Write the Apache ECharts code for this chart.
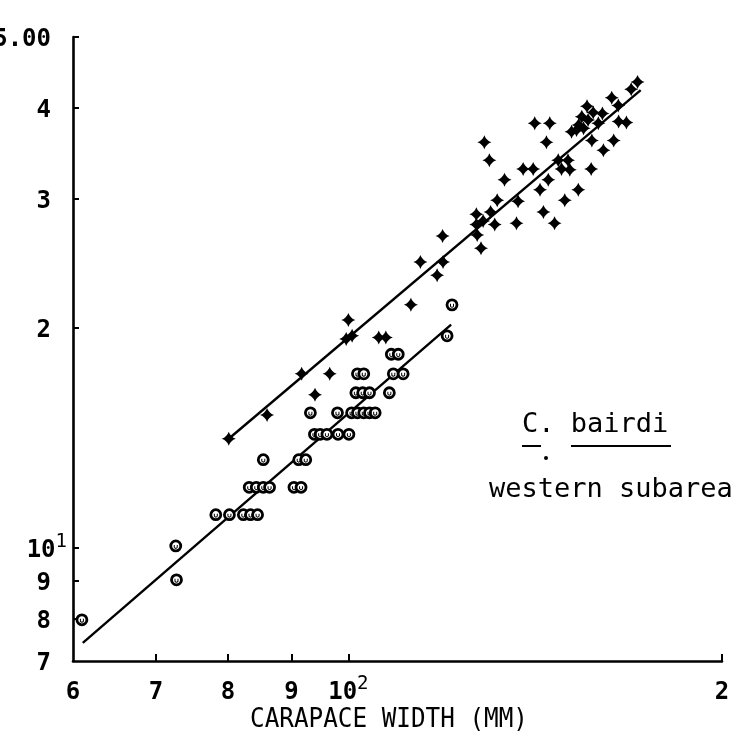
<!DOCTYPE html>
<html>
<head>
<meta charset="utf-8">
<script src="https://cdn.jsdelivr.net/npm/echarts@6/dist/echarts.min.js"></script>
<style>
  html, body { margin: 0; padding: 0; background: #fff; }
  #chart { width: 735px; height: 740px; }
</style>
</head>
<body>
<div id="chart"></div>
<script>
// crosses (upper group)
const crossWidth = [80.1, 86.0, 94.0, 91.7, 96.6, 99.6, 100.7, 105.8, 107.2, 100.0, 112.3, 117.9, 114.3, 119.2, 119.1, 127.0, 127.9,
  126.8, 130.2, 128.4, 131.2, 126.8, 131.8, 137.0, 136.6, 146.6, 143.6, 149.4, 153.2, 142.7, 144.9, 133.6, 138.3, 140.9, 129.9, 128.7,
  144.4, 141.3, 145.3, 147.6, 150.3, 148.5, 150.8, 156.9, 160.5, 163.6, 157.1,
  151.3, 152.7, 154.7, 153.3, 154.2, 156.0, 155.7, 157.5, 160.2, 159.0, 165.1, 167.5, 163.0, 165.0, 169.0, 171.0];
const crossHeight = [14.1, 15.2, 16.2, 17.3, 17.3, 19.3, 19.5, 19.4, 19.4, 20.5, 21.5, 23.6, 24.6, 24.6, 26.7, 26.8, 25.7,
  28.6, 28.8, 28.0, 27.7, 27.7, 29.9, 29.8, 27.8, 27.8, 28.8, 29.9, 30.9, 30.9, 31.9, 31.9, 33.0, 33.0, 33.9, 35.9,
  35.9, 38.1, 38.1, 33.9, 33.9, 33.0, 32.9, 33.0, 35.0, 36.1, 36.1,
  37.1, 37.3, 37.5, 37.9, 38.9, 38.5, 40.2, 39.4, 39.3, 38.1, 38.3, 38.2, 41.3, 40.3, 42.4, 43.4];

// circles (lower group)
const circleWidth = [61.0, 72.6, 72.7, 78.2, 80.2, 82.3, 83.4, 84.5, 83.2, 84.3, 85.4, 86.4, 90.4, 91.6, 85.4, 91.2, 92.4,
  93.9, 94.9, 96.1, 98.1, 100.1, 93.2, 98.0, 100.6, 101.7, 102.9, 104.0, 105.1, 101.4, 102.7, 104.0, 107.9,
  101.7, 102.9, 108.7, 110.7, 108.3, 109.7, 120.1, 121.2];
const circleHeight = [7.97, 10.06, 9.04, 11.1, 11.1, 11.1, 11.1, 11.1, 12.1, 12.1, 12.1, 12.1, 12.1, 12.1, 13.2, 13.2, 13.2,
  14.3, 14.3, 14.3, 14.3, 14.3, 15.3, 15.3, 15.3, 15.3, 15.3, 15.3, 15.3, 16.3, 16.3, 16.3, 16.3,
  17.3, 17.3, 17.3, 17.3, 18.4, 18.4, 19.5, 21.5];

// fitted lines (end points)
const crossFitWidth = [80.1, 172.0];
const crossFitHeight = [14.1, 42.3];
const circleFitWidth = [61.1, 121.0];
const circleFitHeight = [7.41, 20.2];

// axis ticks and labels
const xTicks = [60, 70, 80, 90, 100, 200];
const xTickLabels = ['6', '7', '8', '9', '10^2', '2'];
const yTicks = [7, 8, 9, 10, 20, 30, 40, 50];
const yTickLabels = ['7', '8', '9', '10^1', '2', '3', '4', '5.00'];

const zip = (a, b) => a.map((v, i) => [v, b[i]]);
const MONO = '"DejaVu Sans Mono", monospace';

function richLabel(txt, pad) {
  const parts = txt.split('^');
  if (parts.length > 1) return '{t|' + parts[0] + '}{s|' + parts[1] + '}';
  return pad ? '{p|' + txt + '}' : '{t|' + txt + '}';
}

const labelRich = {
  t: { fontFamily: MONO, fontSize: 24, fontWeight: 'bold', color: '#000', lineHeight: 30, verticalAlign: 'bottom' },
  p: { fontFamily: MONO, fontSize: 24, fontWeight: 'bold', color: '#000', lineHeight: 30, verticalAlign: 'bottom', padding: [0, 16, 0, 0] },
  s: { fontFamily: MONO, fontSize: 19, color: '#000', lineHeight: 30, verticalAlign: 'top' }
};

const chart = echarts.init(document.getElementById('chart'), null, { renderer: 'canvas' });

// fat four-pointed plus, like the plotter marks
const crossSymbol = 'path://M0,-10 Q2.6,-2.6 10,0 Q2.6,2.6 0,10 Q-2.6,2.6 -10,0 Q-2.6,-2.6 0,-10 Z';
// small "u" stroke drawn inside each circle
const innerSymbol = 'path://M0,0 L2,0 L2,4 Q4,6 6,4 L6,0 L8,0 L8,4.5 Q4,9.5 0,4.5 Z';

const option = {
  backgroundColor: '#fff',
  animation: false,
  grid: { left: 73, right: 13, top: 37, bottom: 79, containLabel: false, outerBoundsMode: 'none' },
  xAxis: {
    type: 'log',
    logBase: 10,
    min: 60,
    max: 200,
    axisLine: { show: true, lineStyle: { color: '#000', width: 2.6 } },
    axisTick: { show: true, inside: true, length: 7, lineStyle: { color: '#000', width: 2 },
      customValues: [70, 80, 90, 100, 200] },
    axisLabel: {
      show: true, margin: 14, customValues: xTicks,
      formatter: v => richLabel(xTickLabels[xTicks.indexOf(Math.round(v))] || '', false),
      rich: labelRich
    },
    splitLine: { show: false },
    minorTick: { show: false }
  },
  yAxis: {
    type: 'log',
    logBase: 10,
    min: 7,
    max: 50,
    axisLine: { show: true, lineStyle: { color: '#000', width: 2.6 } },
    axisTick: { show: true, inside: true, length: 6, lineStyle: { color: '#000', width: 2 },
      customValues: [8, 9, 10, 20, 30, 40, 50] },
    axisLabel: {
      show: true, margin: 6, customValues: yTicks,
      formatter: v => richLabel(yTickLabels[yTicks.indexOf(Math.round(v))] || '', true),
      rich: labelRich
    },
    splitLine: { show: false },
    minorTick: { show: false }
  },
  series: [
    {
      name: 'crossFit', type: 'line', data: zip(crossFitWidth, crossFitHeight),
      symbol: 'none', lineStyle: { color: '#000', width: 2.4 }, z: 2
    },
    {
      name: 'circleFit', type: 'line', data: zip(circleFitWidth, circleFitHeight),
      symbol: 'none', lineStyle: { color: '#000', width: 2.4 }, z: 2
    },
    {
      name: 'cross', type: 'scatter', data: zip(crossWidth, crossHeight),
      symbol: crossSymbol, symbolSize: 14,
      itemStyle: { color: '#000', opacity: 1 }, z: 3
    },
    {
      name: 'circle', type: 'scatter', data: zip(circleWidth, circleHeight),
      symbol: 'circle', symbolSize: 10,
      itemStyle: { color: '#fff', borderColor: '#000', borderWidth: 2.8, opacity: 1 }, z: 4
    },
    {
      name: 'circleMark', type: 'scatter', data: zip(circleWidth, circleHeight),
      symbol: innerSymbol, symbolSize: [4, 4], symbolOffset: [0, 1], silent: true,
      itemStyle: { color: '#000', opacity: 1 }, z: 5
    }
  ],
  graphic: [
    { type: 'text', left: 250, top: 706, scaleX: 0.9,
      style: { text: 'CARAPACE WIDTH (MM)', font: '27px ' + MONO, fill: '#000' } },
    { type: 'text', left: 522, top: 411,
      style: { text: 'C. bairdi', font: '27px ' + MONO, fill: '#000' } },
    { type: 'text', left: 489, top: 476,
      style: { text: 'western subarea', font: '27px ' + MONO, fill: '#000' } },
    { type: 'line', shape: { x1: 522, y1: 446, x2: 541, y2: 446 }, style: { stroke: '#000', lineWidth: 2 } },
    { type: 'line', shape: { x1: 571, y1: 446, x2: 671, y2: 446 }, style: { stroke: '#000', lineWidth: 2 } },
    { type: 'circle', shape: { cx: 546, cy: 458, r: 2 }, style: { fill: '#000' } }
  ]
};

chart.setOption(option);
</script>
</body>
</html>
